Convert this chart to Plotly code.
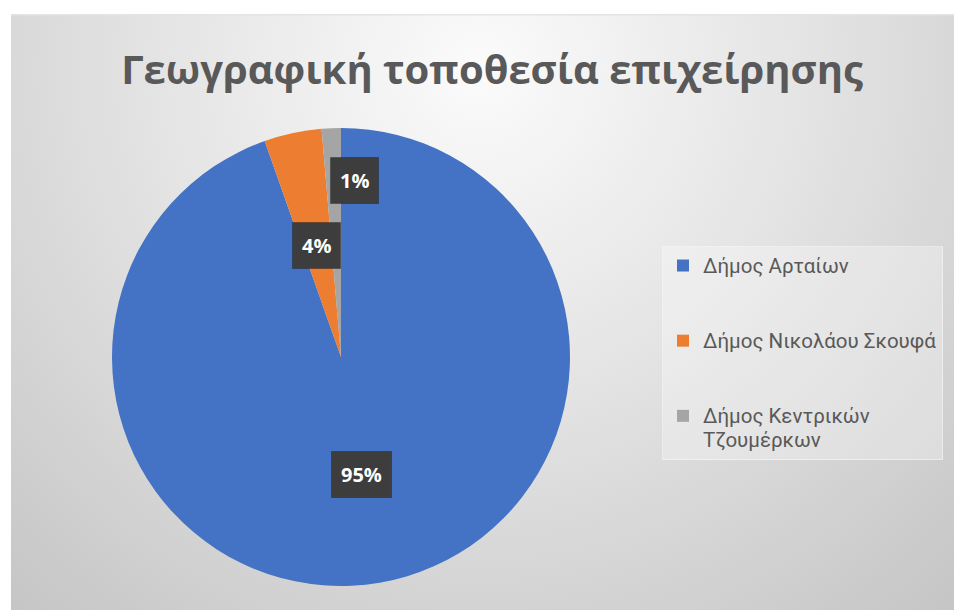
import base64
import math
import plotly.graph_objects as go

# ---- data ----
categories = ["Δήμος Αρταίων", "Δήμος Νικολάου Σκουφά", "Δήμος Κεντρικών<br>Τζουμέρκων"]
values = [70, 3, 1]
colors = ["#4472C4", "#ED7D31", "#A5A5A5"]
title_text = "Γεωγραφική τοποθεσία επιχείρησης"

# ---- layout constants (reference pixel coords; page body has an 8px margin) ----
OFF = 8
FW, FH = 962 - OFF, 610 - OFF
def fx(X):
    return (X - OFF) / FW
def fy(Y):
    return 1 - (Y - OFF) / FH

cx_px, cy_px, R_px = 341, 357, 229
label_frac = [0.52, 0.50, 0.77]   # radial position of data labels (fraction of radius)
label_xshift = [0, 0, 21]

# legend text: larger glyphs, padded lines to reproduce Excel's spaced legend
def legend_text(c):
    lines = c.split("<br>")
    styled = "<br>".join(f"<span style='font-size:20.5px'>{l}</span>" for l in lines)
    return styled if len(lines) > 1 else styled + "<br> <br> "
legend_labels = [legend_text(c) for c in categories]

bw, bh = 962 - 11, 610 - 14
svg = f'''<svg xmlns="http://www.w3.org/2000/svg" width="{bw}" height="{bh}" viewBox="0 0 {bw} {bh}" preserveAspectRatio="none">
<defs><radialGradient id="g" gradientUnits="userSpaceOnUse" cx="{480-11}" cy="{70-14}" r="720">
<stop offset="0" stop-color="#fbfbfb"/><stop offset="0.45" stop-color="#e4e4e4"/><stop offset="1" stop-color="#c5c5c5"/>
</radialGradient></defs>
<rect width="{bw}" height="{bh}" fill="url(#g)"/>
<rect x="0" y="0" width="{bw}" height="1.5" fill="#e4e4e4"/>
</svg>'''
bg_src = "data:image/svg+xml;base64," + base64.b64encode(svg.encode()).decode()

fig = go.Figure()
fig.add_trace(go.Pie(
    labels=legend_labels,
    values=values,
    sort=False,
    direction="clockwise",
    rotation=0,
    marker=dict(colors=colors, line=dict(width=0)),
    textinfo="none",
    hoverinfo="label+percent",
    domain=dict(x=[fx(cx_px - R_px), fx(cx_px + R_px)],
                y=[fy(cy_px + R_px), fy(cy_px - R_px)]),
))

# data labels computed from the values
total = sum(values)
annotations = []
cum = 0
for i, v in enumerate(values):
    mid = (cum + v / 2) / total * 2 * math.pi
    cum += v
    px = cx_px + label_frac[i] * R_px * math.sin(mid)
    py = cy_px - label_frac[i] * R_px * math.cos(mid)
    pct = round(v / total * 100)
    annotations.append(dict(
        text=f"<b>{pct}%</b>", x=fx(px), y=fy(py), xref="paper", yref="paper",
        xanchor="center", yanchor="middle", showarrow=False, xshift=label_xshift[i],
        borderpad=9, bgcolor="#3d3d3d", bordercolor="rgba(0,0,0,0.25)", borderwidth=1,
        font=dict(family="Open Sans", size=20, color="white")))

fig.update_layout(
    width=FW, height=FH,
    margin=dict(l=0, r=0, t=0, b=0),
    paper_bgcolor="white",
    plot_bgcolor="rgba(0,0,0,0)",
    title=dict(text=title_text, x=fx(492), xanchor="center", y=fy(70), yanchor="middle",
               font=dict(family="Open Sans", size=40, color="#595959", weight="bold")),
    images=[dict(source=bg_src, xref="paper", yref="paper", x=fx(11), y=fy(14),
                 sizex=1 - fx(11), sizey=fy(14), xanchor="left", yanchor="top",
                 sizing="stretch", layer="below")],
    legend=dict(x=fx(662), y=fy(246), xanchor="left", yanchor="top",
                bgcolor="rgba(255,255,255,0.3)", bordercolor="rgba(255,255,255,0.45)", borderwidth=1,
                font=dict(family="Roboto", size=18.5, color="#595959"), valign="top"),
    annotations=annotations,
)

fig.write_html("out.html")
